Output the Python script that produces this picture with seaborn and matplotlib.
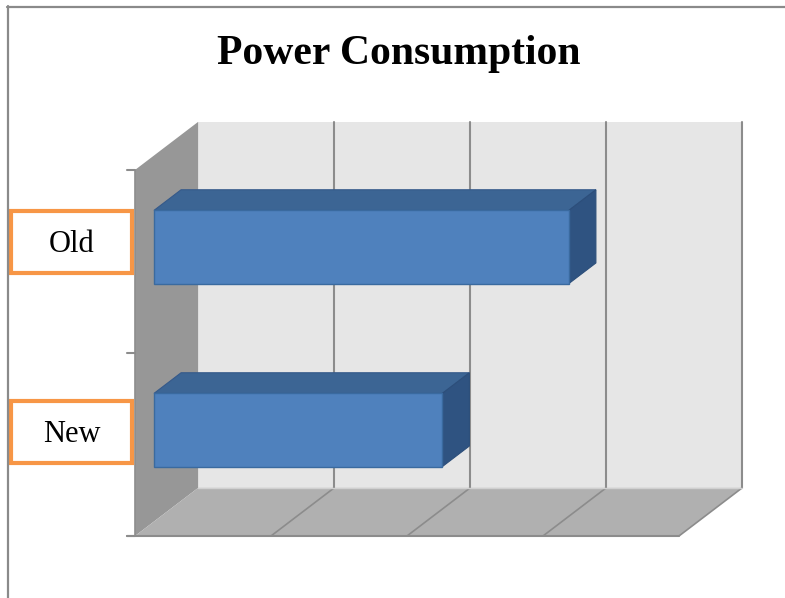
import numpy as np
import pandas as pd
import seaborn as sns
import matplotlib
matplotlib.use("Agg")
import matplotlib.pyplot as plt
from matplotlib.patches import Polygon, Rectangle
from matplotlib.lines import Line2D
import matplotlib.transforms as mtransforms

# ---- data ----
categories = ["Old", "New"]
values = [3.05, 2.12]
value_ticks = [0, 1, 2, 3, 4]
title = "Power Consumption"

# ---- style ----
sns.set_theme(style="white")
plt.rcParams['font.family'] = ['Liberation Serif', 'DejaVu Serif']

W, H = 785, 598
fig = plt.figure(figsize=(W / 100, H / 100), dpi=100)

# axes box in pixels (from top-left)
ax_l, ax_r, ax_t, ax_b = 110, 755, 105, 550
ax = fig.add_axes([ax_l / W, (H - ax_b) / H, (ax_r - ax_l) / W, (ax_b - ax_t) / H])

df = pd.DataFrame({"category": categories, "value": values})
sns.barplot(data=df, x="value", y="category", orient="h", width=0.4,
            color="#4f81bd", edgecolor="#3a6a9f", linewidth=1.0,
            saturation=1, ax=ax, zorder=5)

# data <-> pixel mapping: x_px = 154 + 136*u ; y_px = 247 + 183*v
X0, SX, Y0, SY = 154, 136.0, 247, 183.0
ax.set_xlim((ax_l - X0) / SX, (ax_r - X0) / SX)
ax.set_ylim((ax_b - Y0) / SY, (ax_t - Y0) / SY)
for s in ax.spines.values():
    s.set_visible(False)
ax.set_xticks([])
ax.set_yticks([])
ax.set_xlabel("")
ax.set_ylabel("")
ax.patch.set_alpha(0)

# oblique depth vector (full depth of the box) in data units
Dx, Dy = 63 / SX, -48 / SY
d_front, d_back = -0.3, 0.7          # relative to bar front plane
bar_depth = 0.43
vmax = max(value_ticks)
n = len(categories)
v_top, v_bot = -0.5, n - 0.5

def P(u, v, d):
    return (u + d * Dx, v + d * Dy)

grid_c = "#8c8c8c"
# back wall
ax.add_patch(Polygon([P(0, v_top, d_back), P(vmax, v_top, d_back),
                      P(vmax, v_bot, d_back), P(0, v_bot, d_back)],
                     closed=True, facecolor="#e6e6e6", edgecolor="none", zorder=0))
# side wall
ax.add_patch(Polygon([P(0, v_top, d_front), P(0, v_top, d_back),
                      P(0, v_bot, d_back), P(0, v_bot, d_front)],
                     closed=True, facecolor="#979797", edgecolor="none", zorder=1))
# floor
ax.add_patch(Polygon([P(0, v_bot, d_front), P(vmax, v_bot, d_front),
                      P(vmax, v_bot, d_back), P(0, v_bot, d_back)],
                     closed=True, facecolor="#b0b0b0", edgecolor="none", zorder=1))
# grid lines
for t in value_ticks[1:]:
    a, b = P(t, v_top, d_back), P(t, v_bot, d_back)
    ax.add_line(Line2D([a[0], b[0]], [a[1], b[1]], color=grid_c, lw=1.5, zorder=2))
    c = P(t, v_bot, d_front)
    ax.add_line(Line2D([b[0], c[0]], [b[1], c[1]], color=grid_c, lw=1.2, zorder=2))
# floor back edge (light)
a, b = P(0, v_bot, d_back), P(vmax, v_bot, d_back)
ax.add_line(Line2D([a[0], b[0]], [a[1], b[1]], color="#d0d0d0", lw=1.0, zorder=2))
# front axes
tick_len = 8 / SX
a, b = P(0, v_top, d_front), P(0, v_bot, d_front)
ax.add_line(Line2D([a[0], b[0]], [a[1], b[1]], color=grid_c, lw=1.2, zorder=3))
c = P(vmax, v_bot, d_front)
ax.add_line(Line2D([b[0] - tick_len, c[0]], [b[1], c[1]], color=grid_c, lw=1.5, zorder=3))
for k in range(n + 1):
    p = P(0, v_top + k, d_front)
    ax.add_line(Line2D([p[0] - tick_len, p[0]], [p[1], p[1]], color=grid_c, lw=1.5, zorder=3))

# 3D faces of bars
bdx, bdy = bar_depth * Dx, bar_depth * Dy
for patch in ax.patches:
    if not isinstance(patch, Rectangle):
        continue
    x0, y0 = patch.get_x(), patch.get_y()
    w, h = patch.get_width(), patch.get_height()
    x1 = x0 + w
    yt, yb = min(y0, y0 + h), max(y0, y0 + h)
    ax.add_patch(Polygon([(x0, yt), (x1, yt), (x1 + bdx, yt + bdy), (x0 + bdx, yt + bdy)],
                         closed=True, facecolor="#3c6594", edgecolor="#35598a",
                         lw=0.8, zorder=4))
    ax.add_patch(Polygon([(x1, yt), (x1 + bdx, yt + bdy), (x1 + bdx, yb + bdy), (x1, yb)],
                         closed=True, facecolor="#2f5381", edgecolor="#2c4e7a",
                         lw=0.8, zorder=4))

# category labels in orange boxes
blend = mtransforms.blended_transform_factory(fig.transFigure, ax.transData)
box_l, box_w = 11 / W, 121 / W
box_h = 62 / SY
box_step, box_off = 190 / SY, -5 / SY
for i, cat in enumerate(categories):
    vc = i * box_step + box_off
    ax.add_patch(Rectangle((box_l, vc - box_h / 2), box_w, box_h, transform=blend,
                           facecolor="white", edgecolor="#f79646", lw=3,
                           clip_on=False, zorder=6))
    ax.text(box_l + box_w / 2, vc + 2 / SY, cat, transform=blend, ha="center", va="center",
            fontsize=22, color="black", clip_on=False, zorder=7)

# title
fig.text(399 / W, (H - 64) / H, title, ha="center", va="baseline",
         fontsize=30, fontweight="bold", color="black")

# chart frame
fig.add_artist(Line2D([7.5 / W, 7.5 / W], [0, 1 - 6 / H], transform=fig.transFigure,
                      color="#8a8a8a", lw=1.6))
fig.add_artist(Line2D([7 / W, 1], [1 - 6.5 / H, 1 - 6.5 / H], transform=fig.transFigure,
                      color="#8a8a8a", lw=1.6))

fig.savefig("out.png", dpi=100, facecolor="white")
